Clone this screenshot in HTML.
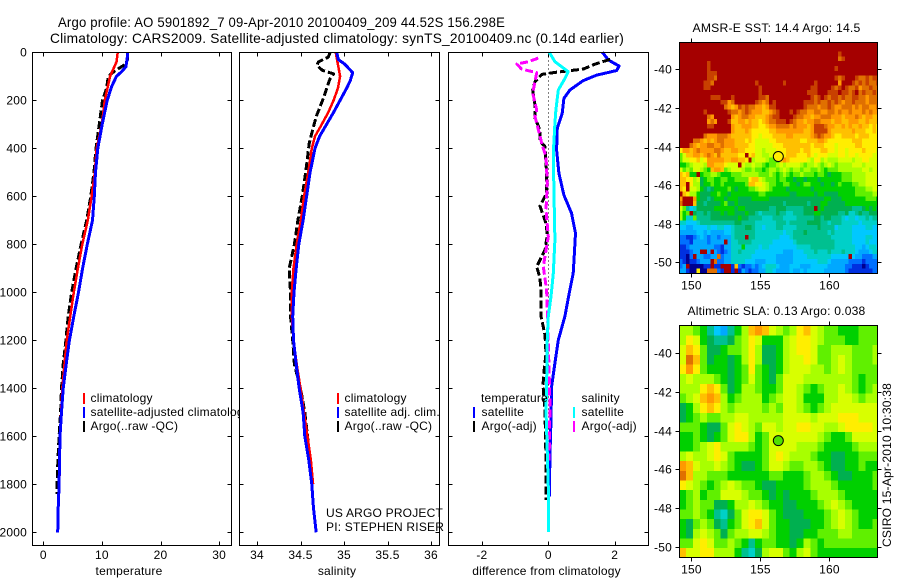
<!DOCTYPE html>
<html lang="en">
<head>
<meta charset="utf-8">
<title>Argo profile</title>
<style>
html,body{margin:0;padding:0;background:#fff;}
#chart{display:block;width:900px;height:580px;font-family:"Liberation Sans",Arial,sans-serif;font-size:12px;fill:#000;letter-spacing:0.2px;}
.frame{fill:none;stroke:#000;stroke-width:1;shape-rendering:crispEdges;}
.tick{stroke:#000;stroke-width:1;shape-rendering:crispEdges;}
.line{fill:none;shape-rendering:crispEdges;stroke-linejoin:round;}
.mk{stroke-width:2;shape-rendering:crispEdges;}
</style>
</head>
<body>
<svg id="chart" xmlns="http://www.w3.org/2000/svg" width="900" height="580" viewBox="0 0 900 580">
<defs>
<clipPath id="clip-sst"><rect x="679.5" y="42.5" width="198" height="231"/></clipPath>
<clipPath id="clip-sla"><rect x="679.5" y="325.5" width="198" height="232"/></clipPath>
</defs>
<rect width="900" height="580" fill="#fff"/>
<text x="58" y="27" font-size="14" textLength="447" lengthAdjust="spacingAndGlyphs">Argo profile: AO 5901892_7 09-Apr-2010 20100409_209 44.52S 156.298E</text>
<text x="50" y="43" font-size="14" textLength="574" lengthAdjust="spacingAndGlyphs">Climatology: CARS2009. Satellite-adjusted climatology: synTS_20100409.nc (0.14d earlier)</text>

<g id="p1"></g>
<g>
<line class="mk" x1="84" x2="84" y1="393" y2="404" stroke="#f00"/>
<text x="90.5" y="402">climatology</text>
<line class="mk" x1="84" x2="84" y1="407" y2="418" stroke="#00f"/>
<text x="90.5" y="416">satellite-adjusted climatology</text>
<line class="mk" x1="84" x2="84" y1="421" y2="432" stroke="#000"/>
<text x="90.5" y="430">Argo(..raw -QC)</text>
</g>
<g id="p2"></g>
<g>
<line class="mk" x1="338" x2="338" y1="393" y2="404" stroke="#f00"/>
<text x="344.5" y="402">climatology</text>
<line class="mk" x1="338" x2="338" y1="407" y2="418" stroke="#00f"/>
<text x="344.5" y="416">satellite adj. clim.</text>
<line class="mk" x1="338" x2="338" y1="421" y2="432" stroke="#000"/>
<text x="344.5" y="430">Argo(..raw -QC)</text>
<text x="326" y="517">US ARGO PROJECT</text>
<text x="326" y="531">PI: STEPHEN RISER</text>
</g>
<g id="p3"></g>
<g>
<text x="481" y="402">temperature</text>
<line class="mk" x1="474" x2="474" y1="407" y2="418" stroke="#00f"/>
<text x="481.5" y="416">satellite</text>
<line class="mk" x1="474" x2="474" y1="421" y2="432" stroke="#000"/>
<text x="481.5" y="430">Argo(-adj)</text>
<text x="581.5" y="402">salinity</text>
<line class="mk" x1="574" x2="574" y1="407" y2="418" stroke="#0ff"/>
<text x="581.5" y="416">satellite</text>
<line class="mk" x1="574" x2="574" y1="421" y2="432" stroke="#f0f"/>
<text x="581.5" y="430">Argo(-adj)</text>
</g>

<text x="692.5" y="32" textLength="168" lengthAdjust="spacingAndGlyphs">AMSR-E SST: 14.4  Argo: 14.5</text>
<g id="m1"></g>
<text x="687.5" y="315" textLength="178" lengthAdjust="spacingAndGlyphs">Altimetric SLA: 0.13  Argo: 0.038</text>
<g id="m2"></g>
<text transform="translate(891 547) rotate(-90)" textLength="164" lengthAdjust="spacingAndGlyphs">CSIRO 15-Apr-2010 10:30:38</text>
</svg>
<script>
// ---- profile data ----
const tempClimDepth=[0,40,100,200,300,400,500,600,700,800,900,1000,1200,1400,1600,1800];
const tempClim=[12.7,12.5,11.4,10.5,10,9.1,8.8,8.25,7.6,6.65,5.9,5.2,4,3.25,2.85,2.75];
const tempSatDepth=[0,30,60,80,100,140,200,300,400,500,600,700,800,900,1000,1100,1200,1300,1400,1500,1600,1800,1900,2000];
const tempSat=[14.4,14.3,14.1,13.4,12.5,11.7,10.9,10.05,9.3,8.9,8.7,8.4,7.5,6.7,6,5.2,4.45,3.9,3.4,3.1,2.85,2.7,2.55,2.45];
const tempArgoDepth=[10,30,50,70,85,100,150,200,300,400,500,600,700,800,900,1000,1100,1200,1300,1400,1500,1600,1700,1800,1840];
const tempArgo=[14.4,14.4,14,12.7,11.8,11.1,10.8,10.1,9.55,9,8.65,8.1,7.4,6.45,5.6,4.85,4.25,3.85,3.4,3.1,2.95,2.7,2.5,2.35,2.3];

const salClimDepth=[0,50,100,150,200,250,300,350,400,500,600,700,800,900,1000,1100,1200,1300,1400,1500,1600,1700,1800];
const salClim=[34.905,34.93,34.955,34.93,34.88,34.82,34.745,34.667,34.63,34.59,34.54,34.505,34.456,34.42,34.4,34.4,34.42,34.456,34.5,34.54,34.58,34.62,34.645];
const salSatDepth=[0,30,50,85,120,150,200,250,300,350,400,500,600,700,800,900,1000,1100,1200,1300,1400,1500,1600,1700,1800,1900,2000];
const salSat=[34.916,34.935,35.01,35.1,35.07,35.03,34.955,34.88,34.8,34.72,34.667,34.61,34.57,34.53,34.48,34.45,34.425,34.41,34.42,34.45,34.485,34.53,34.55,34.595,34.63,34.65,34.68];
const salArgoDepth=[0,20,40,55,75,90,110,130,185,268,337,380,500,600,700,800,900,1000,1100,1200,1300,1400,1500,1600,1700,1800];
const salArgo=[34.84,34.82,34.705,34.69,34.75,34.88,34.84,34.82,34.77,34.68,34.63,34.6,34.56,34.52,34.47,34.43,34.37,34.385,34.385,34.41,34.43,34.5,34.55,34.58,34.61,34.64];

const diffTempSatDepth=[0,32,57,76,95,118,157,192,254,317,407,504,595,670,754,851,921,1004,1100,1199,1295,1393,1532,1670,1851];
const diffTempSat=[1.63,1.81,2.13,2.06,1.46,1.05,0.65,0.47,0.42,0.27,0.25,0.32,0.47,0.7,0.82,0.78,0.75,0.63,0.5,0.3,0.2,0.1,0.08,0.05,0.03];
const diffSalSatDepth=[0,39,81,109,157,240,296,421,573,782,921,1018,1100,1185,1393,1490,1670,1810,1998];
const diffSalSat=[0.03,0.2,0.6,0.5,0.3,0.23,0.2,0.15,0.17,0.2,0.15,0.08,0,-0.03,-0.05,-0.07,-0.03,0,0];
const diffTempArgoDepth=[29,49,70,83,92,122,157,220,274,324,372,393,504,587,641,712,761,824,893,941,1004,1100,1178,1254,1330,1386,1500,1700,1865];
const diffTempArgo=[1.86,1.41,1.05,0.25,-0.2,-0.4,-0.47,-0.4,-0.4,-0.25,-0.25,-0.1,-0.05,-0.05,-0.25,-0.07,-0.03,-0.1,-0.35,-0.25,-0.22,-0.22,-0.1,-0.07,-0.13,-0.16,-0.1,-0.07,-0.07];
const diffSalArgoDepth=[24,39,49,70,85,122,170,240,268,337,379,435,546,657,768,893,990,1100,1365,1463,1643,1700];
const diffSalArgo=[-0.3,-0.6,-0.95,-0.8,-0.35,-0.4,-0.47,-0.35,-0.4,-0.27,-0.2,-0.07,-0.03,-0.07,0,-0.15,-0.05,-0.02,0.03,0.05,0.03,0.02];

// ---- tick labels ----
const depthTicks=[0,200,400,600,800,1000,1200,1400,1600,1800,2000];
const tempTicks=[0,10,20,30];
const salTicks=[34,34.5,35,35.5,36];
const diffTicks=[-2,0,2];
const lonTicks=[150,155,160];
const latTicks=[-40,-42,-44,-46,-48,-50];
const argoPosition=[156.298,-44.52];
const levelColors=['#000090','#0030e0','#0070ff','#00a8ff','#00c8ff','#00d0c8','#00c090','#00b050','#00d000','#60f000','#a8ff00','#d8ff00','#ffee00','#ffc000','#ff9900','#e07000','#c84000','#a50000'];

// ---- SST colour levels, 0.25 degree cells, north to south ----
const sstGrid=[
[17,17,17,17,17,17,17,17,17,17,17,17,17,17,17,17,17,17,17,17,17,17,17,17,17,17,17,17,17,17,17,17,17,17,17,17,17,17,17,17,17,17,17,17,17,17,17,17,17,17,17,17,17,17,17,17,17,17],
[17,17,17,17,17,17,17,17,17,17,17,17,17,17,17,17,17,17,17,17,17,17,17,17,17,17,17,17,17,17,17,17,17,17,17,17,17,17,17,17,17,17,17,17,17,17,17,17,17,17,17,17,17,17,17,17,17,17],
[17,17,17,17,17,17,17,17,17,17,17,17,17,17,17,17,17,17,17,17,17,17,17,17,17,17,17,17,17,17,17,17,17,17,17,17,17,17,17,17,17,17,17,17,17,17,16,17,17,17,17,17,17,17,17,17,17,17],
[17,17,17,17,17,17,17,17,17,17,17,17,17,17,17,17,17,17,17,17,17,17,17,17,17,17,17,17,17,17,17,17,17,17,17,17,17,17,17,17,17,17,17,17,17,17,15,16,17,17,17,17,17,17,17,17,17,17],
[17,17,17,17,17,17,17,17,16,17,17,17,17,17,17,17,17,17,17,17,17,17,17,17,17,17,17,17,17,17,17,17,17,17,17,17,17,17,17,17,17,17,17,17,17,17,17,17,17,17,17,17,17,17,17,17,17,17],
[17,17,17,17,17,17,17,17,16,17,17,17,17,17,17,17,17,17,17,17,17,17,17,17,17,17,17,17,17,17,17,17,17,17,17,17,17,17,17,17,17,17,17,17,17,16,17,17,17,17,17,17,17,17,17,17,17,17],
[17,17,17,17,17,17,17,17,16,16,16,17,17,17,17,17,17,17,17,17,17,17,17,17,17,17,17,17,17,17,17,17,17,17,17,17,17,17,17,17,17,17,17,17,17,17,17,17,17,17,17,17,17,17,17,17,17,17],
[17,17,17,17,17,17,17,17,16,16,15,17,17,17,17,17,17,17,17,17,17,17,17,17,17,17,17,17,17,17,17,17,17,17,17,17,17,17,17,17,17,17,17,17,17,16,15,16,17,17,17,16,15,15,16,15,16,16],
[17,17,17,17,17,17,17,16,16,15,17,17,17,17,17,17,17,17,17,17,17,17,16,17,17,17,17,17,17,17,16,17,17,17,17,17,17,17,17,16,17,17,17,17,17,17,14,17,17,17,16,15,16,15,16,15,15,16],
[17,17,17,17,17,17,17,16,16,17,17,17,17,17,17,17,17,17,17,17,17,17,17,16,17,17,17,17,17,17,17,17,17,17,17,17,17,17,16,16,17,17,17,17,16,15,16,17,16,15,15,16,14,15,15,16,15,15],
[17,17,17,17,17,17,17,17,17,17,17,17,17,17,17,17,17,17,17,17,17,17,17,16,17,17,17,17,17,17,17,17,17,17,17,17,17,16,16,16,17,17,17,16,16,16,17,16,16,15,16,17,15,16,15,15,16,15],
[17,17,17,17,17,17,17,17,17,16,16,16,17,17,17,16,17,17,17,17,17,17,17,16,16,15,17,17,17,17,17,17,17,17,17,17,17,17,16,15,16,17,16,15,16,16,15,16,15,15,16,16,15,15,14,15,15,15],
[17,17,17,17,17,17,17,17,17,17,17,17,16,16,14,15,17,17,17,17,17,17,16,15,14,15,17,16,17,17,17,17,17,17,17,17,16,16,16,15,16,15,15,16,15,16,15,14,15,15,16,15,15,15,14,15,15,15],
[17,17,17,17,17,17,17,17,17,17,17,17,17,15,14,13,14,16,15,16,15,15,14,14,13,14,16,16,17,17,17,17,17,17,17,17,16,15,15,15,14,15,15,16,15,14,14,15,15,15,14,15,14,15,15,14,14,15],
[17,17,17,17,17,17,17,16,17,17,17,17,17,17,16,15,15,14,15,16,15,14,14,14,13,13,14,15,16,17,17,17,16,17,16,15,15,14,14,15,15,14,14,15,15,14,15,14,14,15,14,14,14,15,14,15,14,14],
[17,17,17,17,17,17,17,17,15,14,17,17,17,17,17,14,13,14,15,15,14,14,13,13,13,14,15,16,16,17,17,17,17,16,15,15,14,14,13,14,14,15,15,15,14,14,14,13,14,14,14,15,14,13,14,14,13,13],
[17,17,17,17,17,17,17,17,14,15,14,17,17,17,16,13,13,14,14,13,14,13,13,12,13,14,15,15,16,16,16,17,16,15,14,14,13,14,14,15,15,14,14,14,13,14,14,13,13,14,14,14,13,13,14,13,13,13],
[17,17,17,17,17,17,17,17,16,16,17,17,17,17,17,14,13,13,14,14,14,13,13,12,12,13,14,14,15,15,15,15,14,15,14,14,14,13,14,16,16,16,15,14,14,13,13,14,13,14,13,13,14,13,13,12,13,12],
[17,17,17,17,17,17,17,17,17,17,17,17,17,17,17,14,13,13,13,14,13,12,12,12,12,12,13,13,14,14,14,14,14,14,14,14,13,13,14,16,16,16,16,14,13,13,13,13,13,13,14,13,13,13,12,12,13,12],
[17,17,17,17,17,17,17,15,14,14,14,15,15,15,14,13,13,13,13,13,13,12,12,11,12,12,12,13,13,13,13,14,14,13,13,13,13,13,14,15,16,15,14,14,13,12,12,13,13,13,13,12,13,13,13,12,12,12],
[17,17,17,17,15,15,14,13,14,13,14,15,15,14,14,14,13,13,13,12,13,12,11,11,11,11,12,12,13,13,13,13,13,13,13,12,12,13,13,13,14,14,13,12,12,12,12,12,12,12,13,13,13,12,12,12,12,12],
[17,17,17,15,14,13,14,14,15,15,14,14,15,14,14,14,13,13,13,13,12,12,11,11,11,11,11,12,12,12,13,13,13,13,13,13,13,13,12,13,13,13,12,12,12,11,12,12,12,12,12,13,13,12,12,12,12,12],
[12,14,14,13,14,15,14,14,14,14,15,15,14,13,13,14,14,13,13,12,12,12,11,11,10,11,11,11,12,12,12,13,13,13,13,12,13,13,12,12,12,13,13,12,12,11,12,12,11,12,12,12,12,13,12,12,12,11],
[9,11,13,13,14,14,13,14,15,14,13,15,13,13,13,13,13,12,12,17,12,13,11,11,10,10,11,11,11,12,12,13,13,13,12,12,12,13,12,11,12,12,12,11,11,11,12,12,11,12,12,11,12,12,12,12,11,11],
[9,11,11,12,12,13,11,12,14,14,14,14,14,13,13,14,14,13,13,12,17,10,11,11,11,10,9,9,8,13,14,13,12,12,12,12,12,11,10,12,12,10,11,10,10,10,11,11,11,11,10,11,11,12,12,11,11,11],
[8,8,9,10,11,11,11,10,14,14,13,13,13,12,11,11,11,17,11,10,10,11,10,10,9,8,9,9,10,11,10,11,11,11,11,10,9,10,10,11,10,9,10,11,10,9,10,10,10,10,11,11,11,10,11,11,11,11],
[11,9,10,9,11,11,10,9,8,13,14,14,13,9,10,11,11,11,10,9,9,10,9,9,8,9,10,10,9,10,11,10,9,10,10,9,10,10,9,9,10,9,8,9,9,9,10,10,10,10,10,10,10,11,11,10,11,11],
[13,12,13,8,8,17,8,9,9,10,10,9,8,8,8,9,9,9,10,10,10,10,10,9,9,9,10,9,8,9,10,9,8,9,9,10,9,9,9,8,9,9,8,7,8,8,8,9,9,9,10,10,10,10,11,11,11,11],
[13,13,12,12,10,11,7,8,9,9,8,8,9,9,8,8,9,9,9,9,12,13,13,11,10,9,9,9,8,9,9,8,8,7,8,8,7,8,8,8,7,8,8,8,8,8,8,9,9,9,10,10,10,10,11,11,11,11],
[13,13,17,12,10,10,7,8,8,9,8,8,9,8,8,8,8,8,8,9,13,13,12,12,11,10,9,9,8,8,9,9,8,8,7,8,9,9,8,8,8,7,8,8,7,8,9,8,8,8,9,9,10,10,11,11,11,11],
[13,12,17,11,11,10,8,7,6,7,8,8,8,8,9,8,7,8,8,8,9,9,10,11,11,10,9,8,8,8,8,7,8,8,8,8,8,8,7,8,8,8,8,8,8,8,8,8,8,8,8,9,9,9,10,10,11,11],
[17,13,12,10,10,8,7,7,7,8,8,9,8,8,7,8,8,8,8,8,8,8,8,9,9,8,8,8,8,8,8,8,7,7,8,8,8,8,8,7,8,8,7,7,7,7,8,8,8,8,8,9,9,9,9,9,10,10],
[14,17,17,17,14,8,7,7,6,7,8,8,8,7,8,8,8,7,7,7,7,8,8,8,8,8,7,7,7,7,7,7,7,7,7,7,7,7,7,7,7,7,8,8,7,7,7,8,8,8,8,8,8,8,9,9,9,8],
[15,17,17,17,13,7,7,6,7,7,7,7,8,9,7,7,8,7,7,7,7,7,7,7,7,7,7,7,7,7,6,7,7,7,7,7,7,6,7,7,7,8,8,7,7,7,7,7,8,8,8,8,8,8,8,8,8,8],
[11,9,6,4,5,7,7,7,7,7,8,8,8,8,8,8,7,8,8,7,7,7,7,7,7,7,6,6,7,7,7,6,6,6,6,6,7,7,7,17,7,8,7,7,7,7,7,7,7,7,6,6,6,7,8,7,8,7],
[10,8,9,17,7,6,6,7,6,7,7,7,8,7,8,8,7,7,7,8,7,7,6,5,6,6,6,6,7,6,6,5,5,6,6,6,7,7,7,8,8,7,7,7,7,7,6,6,7,5,5,6,7,6,6,7,7,7],
[10,8,5,5,9,6,6,6,6,7,7,7,7,7,7,7,7,8,7,7,6,6,6,6,5,5,5,6,6,6,5,5,5,5,6,6,6,6,6,7,7,6,7,7,6,6,6,5,4,5,5,4,5,5,6,5,6,6],
[5,5,4,4,4,5,6,6,6,6,6,6,6,6,6,6,7,7,6,6,6,6,5,5,5,5,5,5,6,6,6,5,6,6,6,6,6,7,7,7,7,6,6,5,6,6,6,5,5,5,5,5,4,5,5,5,5,5],
[4,4,3,3,4,4,4,4,5,4,4,5,5,4,4,5,6,6,6,7,7,6,5,5,4,5,5,5,6,6,5,5,5,5,6,6,6,6,6,6,7,6,6,6,6,4,5,5,5,5,4,4,4,4,5,5,4,4],
[3,3,3,3,3,4,4,3,4,3,3,3,3,4,4,5,6,6,6,6,6,6,5,5,5,5,5,5,5,5,4,5,5,6,6,6,7,6,6,6,6,6,6,5,6,5,5,5,5,5,4,4,4,4,4,4,4,4],
[2,2,1,1,2,3,4,3,2,3,3,2,3,3,3,5,6,6,6,17,6,6,5,5,5,5,5,5,5,4,4,4,5,6,6,6,6,6,6,6,6,6,6,6,5,5,5,5,5,5,4,4,4,4,5,5,4,4],
[2,2,2,1,3,3,3,3,2,3,3,3,3,17,3,5,5,6,6,6,6,5,5,5,5,5,5,4,4,4,4,4,4,5,6,6,6,6,6,6,6,6,6,6,6,5,5,5,5,5,4,4,4,4,5,4,4,4],
[1,1,2,3,3,3,3,3,3,3,2,2,1,3,3,5,5,5,8,5,5,5,5,4,5,5,4,4,4,4,4,4,4,4,5,5,5,5,6,6,6,6,6,6,6,5,5,5,5,5,5,4,4,3,4,5,5,4],
[1,1,1,2,3,3,17,17,3,17,3,2,1,2,3,5,5,6,5,5,5,5,4,4,4,4,4,4,4,4,3,3,3,4,4,4,5,5,5,6,5,5,5,6,5,5,5,6,5,5,5,4,3,3,3,4,5,5],
[1,1,0,2,17,3,3,2,2,3,3,15,2,3,3,5,5,5,5,5,5,4,4,4,4,4,4,4,3,3,3,3,3,4,4,4,4,5,5,5,5,5,5,5,4,4,4,4,4,17,4,3,3,2,2,2,3,3],
[2,1,0,1,1,2,3,3,3,17,15,2,2,3,3,5,5,5,5,4,4,4,3,3,3,4,4,4,3,3,3,3,3,4,4,4,4,4,4,4,5,5,5,4,3,3,3,3,3,2,2,2,2,1,2,2,2,2],
[2,3,17,0,0,0,0,1,1,17,1,1,17,17,17,1,13,2,1,2,2,3,2,3,4,5,5,5,4,3,3,3,4,4,4,3,3,3,4,4,4,4,4,3,3,3,3,3,2,2,1,1,1,0,1,2,2,2],
[3,3,1,0,0,12,0,0,15,15,15,2,1,17,17,1,17,1,3,2,1,2,2,3,3,5,5,4,3,3,3,3,4,3,3,4,3,4,4,4,4,4,3,3,3,3,3,3,2,1,1,1,1,1,1,1,2,2]
];

// ---- SLA colour levels, 0.5 degree cells, north to south ----
const slaGrid=[
[10,10,9,8,6,4,3,6,8,10,13,14,13,11,10,9,10,12,13,11,10,9,9,8,8,8,9,9,9],
[10,12,11,8,7,6,6,7,9,10,12,11,8,8,8,10,11,12,12,11,10,9,9,9,8,8,9,9,9],
[11,13,12,9,7,7,8,9,9,10,12,10,7,7,8,10,11,12,12,11,9,9,10,10,10,9,9,9,10],
[11,15,13,9,7,8,8,7,8,10,12,10,7,7,8,10,11,11,12,11,9,9,10,11,10,9,9,9,10],
[12,14,12,9,8,8,8,7,8,9,12,9,8,7,8,10,11,11,11,10,10,9,10,11,10,9,9,9,9],
[10,11,10,10,10,9,8,7,8,9,11,9,8,7,9,11,11,11,10,10,10,10,10,10,10,9,8,9,9],
[10,10,10,12,13,12,9,7,8,10,10,9,8,8,9,11,11,10,9,8,9,10,10,11,10,9,8,9,10],
[9,10,11,13,14,13,10,8,9,10,10,10,8,9,10,11,11,10,8,8,8,10,10,11,11,10,9,10,10],
[7,8,10,12,13,12,10,9,10,10,10,10,9,10,9,11,11,10,9,8,9,10,11,11,11,11,11,11,11],
[7,8,9,10,9,9,10,10,11,11,10,10,10,10,10,11,11,11,11,10,11,11,11,12,12,12,11,11,11],
[9,9,9,8,7,7,9,11,12,11,10,9,11,11,10,11,11,12,12,11,11,10,10,11,12,12,12,12,11],
[8,8,9,8,7,8,9,11,12,12,10,8,9,11,11,11,11,11,11,11,10,9,8,8,9,11,11,11,11],
[8,8,9,10,11,12,10,10,10,10,9,8,9,11,11,11,11,10,10,10,9,8,8,8,8,9,10,10,10],
[10,11,10,10,11,12,11,9,8,8,8,8,9,11,12,11,10,10,10,9,8,8,7,7,8,8,9,9,9],
[14,13,11,10,10,11,10,9,8,7,7,8,9,11,11,10,9,9,10,10,9,8,7,7,8,8,9,8,8],
[15,13,10,10,9,9,9,8,8,8,8,8,8,9,9,8,8,8,9,10,10,9,8,7,7,8,8,8,9],
[12,11,10,9,8,9,10,11,10,9,9,8,7,7,8,8,8,8,9,10,10,10,9,8,8,8,8,8,9],
[8,9,10,8,9,9,11,11,11,10,9,9,8,7,8,7,8,8,8,9,10,10,10,9,8,8,8,8,8],
[8,9,10,9,9,7,7,8,10,10,11,10,9,8,8,7,7,8,8,8,9,10,11,10,9,8,8,8,8],
[9,9,10,9,8,6,5,7,9,11,12,12,11,9,8,7,7,7,8,8,8,9,10,11,10,9,8,8,8],
[8,7,9,10,9,7,6,8,9,11,12,13,11,9,8,8,7,7,7,8,8,9,10,11,10,9,8,8,9],
[8,7,10,11,10,9,7,9,10,10,11,11,10,9,8,8,7,7,8,8,9,9,9,10,10,9,9,9,9],
[9,9,11,12,11,9,9,10,9,8,6,8,9,9,8,8,7,8,10,9,8,9,9,9,9,9,9,9,9],
[13,11,11,12,12,10,10,10,8,6,5,7,10,11,11,9,8,10,11,9,8,8,8,8,8,8,8,8,8]
];

// ---- helpers and scales ----
const NS='http://www.w3.org/2000/svg';
function mk(tag,attrs,parent,txt){
  const e=document.createElementNS(NS,tag);
  for(const k in attrs){e.setAttribute(k,attrs[k]);}
  if(txt!==undefined){e.textContent=txt;}
  parent.appendChild(e);
  return e;
}
const yDepth=d=>52.3+0.24*d;
const xTemp=v=>43.3+5.86*v;
const xSal=v=>257+87*(v-34);
const xDiff=v=>548.3+33.2*v;
const xLon=v=>691.4+13.8*(v-150);
const yLat1=v=>69.3+19.3*(-40-v);
const yLat2=v=>353.3+19.33*(-40-v);

function drawPanel(g,x0,x1,xs,ticks,title,titleX){
  const top=52.5,bot=545.5;
  const bg=mk('rect',{x:x0,y:top,width:x1-x0,height:bot-top,fill:'#fff'},g);
  
  
  depthTicks.forEach(d=>{
    const y=Math.round(yDepth(d))+0.5;
    const a=mk('line',{class:'tick',x1:x0,x2:x0+4,y1:y,y2:y},g);
    
    
    const b=mk('line',{class:'tick',x1:x1-4,x2:x1,y1:y,y2:y},g);
    
    
  });
  ticks.forEach(v=>{
    const x=Math.round(xs(v))+0.5;
    const a=mk('line',{class:'tick',x1:x,x2:x,y1:top,y2:top+4},g);
    
    
    const b=mk('line',{class:'tick',x1:x,x2:x,y1:bot-4,y2:bot},g);
    
    
    const t=mk('text',{x:xs(v),y:559,'text-anchor':'middle'},g,String(v));
    
    
  });
  const t=mk('text',{x:titleX,y:575,'text-anchor':'middle'},g,title);
  
  
}
function drawFrame(g,x0,y0,x1,y1){
  const f=mk('rect',{class:'frame',x:x0,y:y0,width:x1-x0,height:y1-y0},g);
  
  
}
function drawLine(g,xs,vals,depths,color,width,dash,name){
  const pts=vals.map((v,i)=>xs(v).toFixed(1)+','+yDepth(depths[i]).toFixed(1)).join(' ');
  const attrs={class:'line',points:pts,stroke:color,'stroke-width':width};
  if(dash){attrs['stroke-dasharray']=dash;}
  const p=mk('polyline',attrs,g);
  
  
}
function drawMap(g,grid,cellDeg,yLat,clip,top,bot,circleColor){
  const cells=mk('g',{'clip-path':'url(#'+clip+')','shape-rendering':'crispEdges'},g);
  
  
  const lon0=149.12,lat0=-38.58;
  grid.forEach((row,r)=>{
    row.forEach((lvl,c)=>{
      const x=xLon(lon0+c*cellDeg),x2=xLon(lon0+(c+1)*cellDeg);
      const y=yLat(lat0-r*cellDeg),y2=yLat(lat0-(r+1)*cellDeg);
      const cell=mk('rect',{x:x.toFixed(2),y:y.toFixed(2),width:(x2-x+0.4).toFixed(2),height:(y2-y+0.4).toFixed(2),fill:levelColors[lvl]},cells);
      
      
    });
  });
  const left=679.5,right=877.5;
  lonTicks.forEach(v=>{
    const x=Math.round(xLon(v))+0.5;
    const a=mk('line',{class:'tick',x1:x,x2:x,y1:top-4,y2:top},g);
    
    
    const b=mk('line',{class:'tick',x1:x,x2:x,y1:bot,y2:bot+4},g);
    
    
    const t=mk('text',{x:xLon(v),y:bot+16,'text-anchor':'middle'},g,String(v));
    
    
  });
  latTicks.forEach(v=>{
    const y=Math.round(yLat(v))+0.5;
    const a=mk('line',{class:'tick',x1:left-4,x2:left,y1:y,y2:y},g);
    
    
    const b=mk('line',{class:'tick',x1:right,x2:right+4,y1:y,y2:y},g);
    
    
    const t=mk('text',{x:672,y:y+4,'text-anchor':'end'},g,String(v));
    
    
  });
  drawFrame(g,left,top,right,bot);
  const m=mk('circle',{cx:xLon(argoPosition[0]),cy:yLat(argoPosition[1]),r:5,fill:circleColor,stroke:'#000','stroke-width':1},g);
  
  
}

// ---- temperature ----
const p1=document.getElementById('p1');
drawPanel(p1,32.5,231.5,xTemp,tempTicks,'temperature',129);
depthTicks.forEach(d=>{
  const t=mk('text',{x:27,y:Math.round(yDepth(d))+4.5,'text-anchor':'end'},p1,String(d));
  
  
});
drawLine(p1,xTemp,tempArgo,tempArgoDepth,'#000',3,'8 3','temperature-argo-line');
drawLine(p1,xTemp,tempClim,tempClimDepth,'#f00',2.5,null,'temperature-climatology-line');
drawLine(p1,xTemp,tempSat,tempSatDepth,'#00f',3,null,'temperature-satellite-line');
drawFrame(p1,32.5,52.5,231.5,545.5);

// ---- salinity ----
const p2=document.getElementById('p2');
drawPanel(p2,239.5,439.5,xSal,salTicks,'salinity',337);
drawLine(p2,xSal,salArgo,salArgoDepth,'#000',3,'8 3','salinity-argo-line');
drawLine(p2,xSal,salClim,salClimDepth,'#f00',2.5,null,'salinity-climatology-line');
drawLine(p2,xSal,salSat,salSatDepth,'#00f',3,null,'salinity-satellite-line');
drawFrame(p2,239.5,52.5,439.5,545.5);

// ---- difference ----
const p3=document.getElementById('p3');
drawPanel(p3,448.5,648.5,xDiff,diffTicks,'difference from climatology',546.5);
const zero=mk('line',{x1:548.5,x2:548.5,y1:yDepth(0),y2:yDepth(2000),stroke:'#000','stroke-width':1,'stroke-dasharray':'1 3','shape-rendering':'crispEdges'},p3);


drawLine(p3,xDiff,diffTempSat,diffTempSatDepth,'#00f',3,null,'diff-temperature-satellite-line');
drawLine(p3,xDiff,diffTempArgo,diffTempArgoDepth,'#000',3,'8 3','diff-temperature-argo-line');
drawLine(p3,xDiff,diffSalArgo,diffSalArgoDepth,'#f0f',3,'8 3','diff-salinity-argo-line');
drawLine(p3,xDiff,diffSalSat,diffSalSatDepth,'#0ff',3,null,'diff-salinity-satellite-line');
drawFrame(p3,448.5,52.5,648.5,545.5);

// ---- maps ----
drawMap(document.getElementById('m1'),sstGrid,0.25,yLat1,'clip-sst',42.5,273.5,'#ffee00');
drawMap(document.getElementById('m2'),slaGrid,0.5,yLat2,'clip-sla',325.5,557.5,'#50e000');
</script>
</body>
</html>
